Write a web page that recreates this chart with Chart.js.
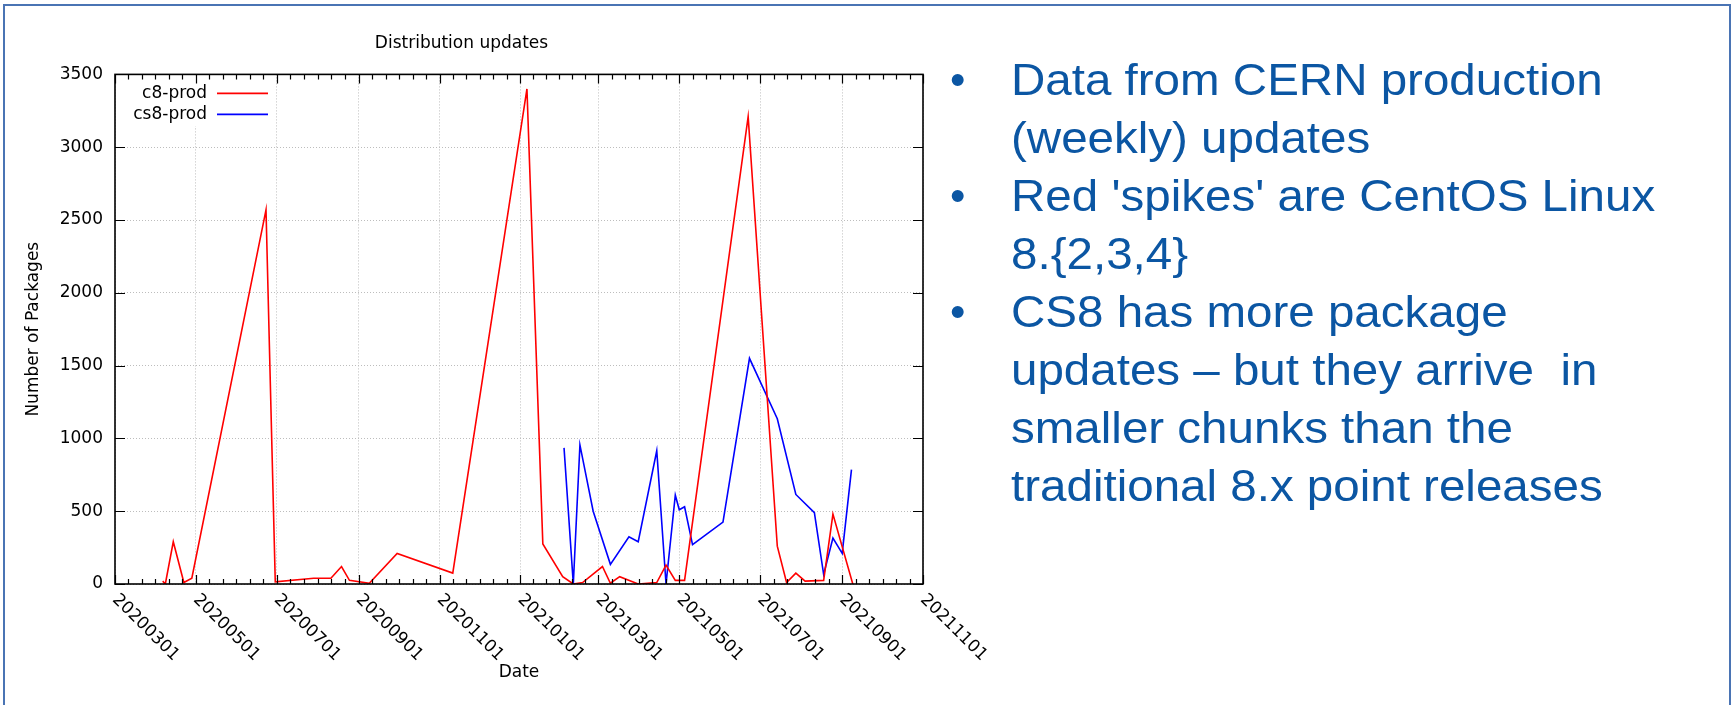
<!DOCTYPE html>
<html>
<head>
<meta charset="utf-8">
<script src="https://cdn.jsdelivr.net/npm/chart.js@4"></script>
<style>
  html, body { margin: 0; padding: 0; background: #fff; }
  body { width: 1733px; height: 705px; position: relative; overflow: hidden; }
  #frame { position: absolute; left: 3px; top: 4px; width: 1728px; height: 720px; border: 2px solid #4a74b4; box-sizing: border-box; }
  #chartBox { position: absolute; left: 0; top: 0; width: 1038px; height: 705px; }
  .notes { position: absolute; top: 51px; font: 44px "Liberation Sans", Arial, sans-serif; line-height: 58px; color: #0b56a3; white-space: nowrap; }
  #bullets { left: 950px; }
  #lines { left: 1011px; transform: scaleX(1.08); transform-origin: 0 0; }
</style>
</head>
<body>
<div id="frame"></div>
<div id="chartBox"><canvas id="myChart" width="1038" height="705"></canvas></div>
<div class="notes" id="bullets">•<br>&nbsp;<br>•<br>&nbsp;<br>•</div>
<div class="notes" id="lines">Data from CERN production<br>(weekly) updates<br>Red 'spikes' are CentOS Linux<br>8.{2,3,4}<br>CS8 has more package<br>updates – but they arrive&nbsp; in<br>smaller chunks than the<br>traditional 8.x point releases</div>
<script>
const ctx = document.getElementById('myChart').getContext('2d');

// datos: fechas (AAAAMMDD) y paquetes por actualizacion
const c8Dates = ['20200406', '20200408', '20200414', '20200422', '20200428', '20200623', '20200630',
    '20200729', '20200811', '20200819', '20200825', '20200909', '20200930', '20201111', '20210106',
    '20210118', '20210202', '20210210', '20210217', '20210304', '20210310', '20210317', '20210331',
    '20210414', '20210421', '20210428', '20210505', '20210622', '20210714', '20210721', '20210728',
    '20210804', '20210818', '20210825', '20210909'];
const c8Values = [20, 0, 290, 10, 40, 2570, 15,
    40, 40, 120, 25, 5, 210, 75, 3400,
    275, 50, 0, 10, 120, 5, 50, 0,
    10, 130, 25, 25, 3210, 260, 10, 75,
    20, 25, 480, 0];

const cs8Dates = ['20210203', '20210210', '20210215', '20210225', '20210310', '20210324', '20210331',
    '20210414', '20210421', '20210428', '20210501', '20210505', '20210511', '20210603', '20210623',
    '20210714', '20210728', '20210811', '20210818', '20210825', '20210901', '20210908'];
const cs8Values = [935, 0, 955, 500, 135, 325, 290,
    915, 0, 610, 510, 530, 270, 425, 1550,
    1135, 615, 490, 65, 315, 210, 785];

// etiquetas del eje x
const tickLabels = ['20200301', '20200501', '20200701', '20200901', '20201101', '20210101',
    '20210301', '20210501', '20210701', '20210901', '20211101'];

const labelFont = '17px "DejaVu Sans"';
const origin = Date.UTC(2020, 2, 1);
function dayOf(s) {
    return (Date.UTC(+s.slice(0, 4), +s.slice(4, 6) - 1, +s.slice(6, 8)) - origin) / 86400000;
}
const majorDays = tickLabels.map(dayOf);
const minorDays = [];
for (let i = 0; i < majorDays.length - 1; i++) {
    for (let k = 1; k < 6; k++) minorDays.push(majorDays[i] + (majorDays[i + 1] - majorDays[i]) * k / 6);
}

const data = {
    datasets: [{
        label: 'c8-prod',
        data: c8Dates.map((d, i) => ({x: dayOf(d), y: c8Values[i]})),
        borderColor: '#ff0000',
        borderWidth: 1.6,
        pointRadius: 0,
        fill: false
    }, {
        label: 'cs8-prod',
        data: cs8Dates.map((d, i) => ({x: dayOf(d), y: cs8Values[i]})),
        borderColor: '#0000ff',
        borderWidth: 1.6,
        pointRadius: 0,
        fill: false
    }]
};

// marco estilo gnuplot: tics hacia dentro, caja, etiquetas giradas y leyenda
const gnuplotFrame = {
    id: 'gnuplotFrame',
    afterDraw(chart) {
        const {ctx, chartArea: a, scales: {x, y}} = chart;
        ctx.save();
        ctx.fillStyle = '#fff';
        ctx.fillRect(a.left + 1, a.top + 1, 160, 51);

        ctx.strokeStyle = '#000';
        ctx.lineWidth = 1.2;
        ctx.beginPath();
        majorDays.forEach(d => {
            const px = Math.round(x.getPixelForValue(d)) + 0.5;
            ctx.moveTo(px, a.bottom); ctx.lineTo(px, a.bottom - 9);
            ctx.moveTo(px, a.top); ctx.lineTo(px, a.top + 9);
        });
        minorDays.forEach(d => {
            const px = Math.round(x.getPixelForValue(d)) + 0.5;
            ctx.moveTo(px, a.bottom); ctx.lineTo(px, a.bottom - 5);
            ctx.moveTo(px, a.top); ctx.lineTo(px, a.top + 5);
        });
        y.ticks.forEach(t => {
            const py = Math.round(y.getPixelForValue(t.value)) + 0.5;
            ctx.moveTo(a.left, py); ctx.lineTo(a.left + 10, py);
            ctx.moveTo(a.right, py); ctx.lineTo(a.right - 10, py);
        });
        ctx.stroke();
        ctx.lineWidth = 1.6;
        ctx.strokeRect(a.left, a.top, a.right - a.left, a.bottom - a.top);

        ctx.font = labelFont;
        ctx.fillStyle = '#000';
        ctx.textAlign = 'left';
        ctx.textBaseline = 'middle';
        tickLabels.forEach((lab, i) => {
            ctx.save();
            ctx.translate(x.getPixelForValue(majorDays[i]), a.bottom + 13);
            ctx.rotate(Math.PI / 4);
            ctx.fillText(lab, 0, 0);
            ctx.restore();
        });

        ctx.textAlign = 'right';
        chart.data.datasets.forEach((ds, i) => {
            const ly = a.top + 19 + i * 21;
            ctx.fillStyle = '#000';
            ctx.fillText(ds.label, a.left + 92, ly);
            ctx.strokeStyle = ds.borderColor;
            ctx.lineWidth = 1.6;
            ctx.beginPath();
            ctx.moveTo(a.left + 102, ly);
            ctx.lineTo(a.left + 153, ly);
            ctx.stroke();
        });
        ctx.restore();
    }
};

const gridOpts = {color: '#bdbdbd', lineWidth: 1, drawTicks: false};
const font = {family: 'DejaVu Sans', size: 17, weight: 'normal'};

const config = {
    type: 'line',
    data: data,
    options: {
        responsive: false,
        animation: false,
        layout: {padding: {left: 0, right: 115, top: 0, bottom: 0}},
        plugins: {
            legend: {display: false},
            tooltip: {enabled: false},
            title: {
                display: true,
                text: 'Distribution updates',
                color: '#000',
                font: font,
                padding: {top: 33, bottom: 21}
            }
        },
        scales: {
            x: {
                type: 'linear',
                min: 0,
                max: majorDays[majorDays.length - 1],
                afterBuildTicks: s => { s.ticks = majorDays.map(v => ({value: v})); },
                afterFit: s => { s.height = 121; },
                ticks: {display: false},
                grid: gridOpts,
                border: {display: false, dash: [1, 2]},
                title: {display: true, text: 'Date', color: '#000', font: font, padding: {top: 0, bottom: 22}}
            },
            y: {
                min: 0,
                max: 3500,
                afterFit: s => { s.width = 115; },
                ticks: {stepSize: 500, padding: 12, color: '#000', font: font, callback: v => String(v)},
                grid: gridOpts,
                border: {display: false, dash: [1, 2]},
                title: {display: true, text: 'Number of Packages', color: '#000', font: font, padding: {top: 23}}
            }
        }
    },
    plugins: [gnuplotFrame]
};

const myChart = new Chart(ctx, config);
</script>
</body>
</html>
